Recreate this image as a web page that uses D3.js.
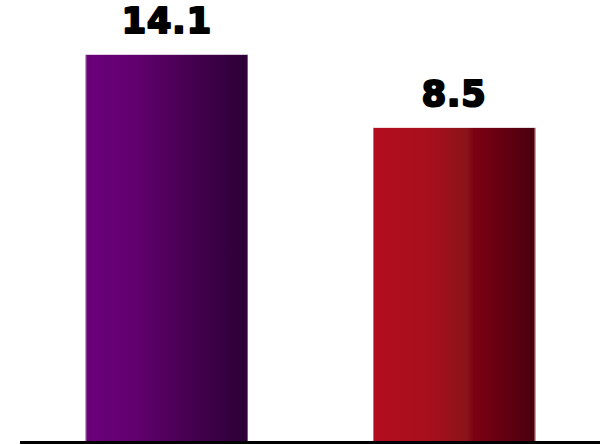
<!doctype html>
<html>
  <head>
    <script src="https://d3js.org/d3.v7.min.js"></script>
    <style>
      body { margin: 0; background: #fff; }
      .val { font-family: "DejaVu Sans", sans-serif; font-weight: bold; font-size: 35px; fill: #000;
             stroke: #000; stroke-width: 2.2px; stroke-linejoin: round; letter-spacing: 1px; }
    </style>
  </head>
  <body>
    <svg class="chart" width="600" height="444"></svg>
    <script>
        var categories = ["Group A", "Group B"];
        var values = [14.1, 8.5];
        var valueLabels = ["14.1", "8.5"];

        var svg = d3.select("svg");
        var width = +svg.attr("width"),
            height = +svg.attr("height");
        var left = 21, baseY = 441;

        var xScale = d3.scaleBand().domain(categories).range([left, width])
            .paddingInner(0.435).paddingOuter(0.225);
        var yScale = d3.scaleLinear().domain([-15.5, 18.3]).range([baseY, 0]);

        // gradients for the two bars
        var defs = svg.append("defs");
        var grads = [
            [["0%", "#6b007a"], ["30%", "#620070"], ["65%", "#45004f"], ["100%", "#2c0036"]],
            [["0%", "#b20d1f"], ["35%", "#a80f1d"], ["58%", "#8a1419"], ["62%", "#7c0014"], ["100%", "#4a000e"]]
        ];
        grads.forEach(function(stops, i){
            var g = defs.append("linearGradient").attr("id", "grad" + i)
                .attr("x1", "0%").attr("x2", "100%").attr("y1", "0%").attr("y2", "0%");
            stops.forEach(function(s){
                g.append("stop").attr("offset", s[0]).attr("stop-color", s[1]);
            });
        });

        var edge = ["#a77fb0", "#d49aa2"];

        svg.selectAll(".bar")
            .data(values)
            .enter().append("rect")
                .attr("class", "bar")
                .attr("x", function(d, i){ return xScale(categories[i]); })
                .attr("y", function(d){ return yScale(d); })
                .attr("width", xScale.bandwidth())
                .attr("height", function(d){ return baseY - yScale(d); })
                .attr("fill", function(d, i){ return "url(#grad" + i + ")"; });

        // thin light side edges
        values.forEach(function(d, i){
            var x0 = xScale(categories[i]), x1 = x0 + xScale.bandwidth();
            [x0 + 0.5, x1 - 0.5].forEach(function(x){
                svg.append("line")
                    .attr("x1", x).attr("x2", x)
                    .attr("y1", yScale(d)).attr("y2", baseY)
                    .attr("stroke", edge[i]).attr("stroke-width", 1).attr("opacity", 0.7);
            });
        });

        svg.selectAll(".val")
            .data(values)
            .enter().append("text")
                .attr("class", "val")
                .attr("text-anchor", "middle")
                .attr("x", function(d, i){ return xScale(categories[i]) + xScale.bandwidth() / 2; })
                .attr("y", function(d){ return yScale(d) - 22; })
                .text(function(d, i){ return valueLabels[i]; });

        // baseline
        svg.append("line")
            .attr("x1", left - 1).attr("x2", width)
            .attr("y1", baseY + 1.5).attr("y2", baseY + 1.5)
            .attr("stroke", "#000").attr("stroke-width", 3);
    </script>
  </body>
</html>
